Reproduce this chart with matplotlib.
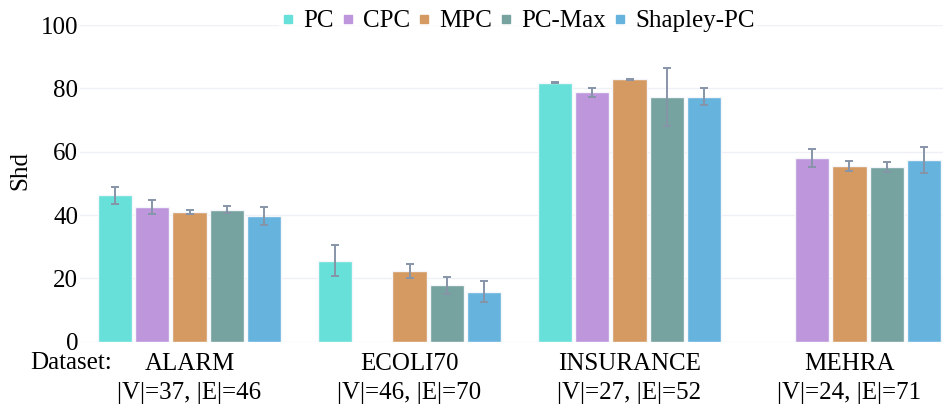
import numpy as np
import matplotlib
matplotlib.use("Agg")
import matplotlib.pyplot as plt
from matplotlib.lines import Line2D

plt.rcParams['font.family'] = ['Liberation Serif', 'DejaVu Serif']

datasets = ["ALARM", "ECOLI70", "INSURANCE", "MEHRA"]
sizes = ["|V|=37, |E|=46", "|V|=46, |E|=70", "|V|=27, |E|=52", "|V|=24, |E|=71"]
methods = ["PC", "CPC", "MPC", "PC-Max", "Shapley-PC"]
colors = ["#66E0D8", "#BE96DC", "#D49A62", "#76A29F", "#66B4DE"]

nan = np.nan
pc_mean = [46.2, 25.6, 81.8, nan]
pc_err = [2.6, 4.9, 0.2, nan]
cpc_mean = [42.6, nan, 78.8, 57.9]
cpc_err = [2.3, nan, 1.4, 2.8]
mpc_mean = [41.0, 22.3, 82.8, 55.5]
mpc_err = [0.6, 2.15, 0.15, 1.6]
pcmax_mean = [41.7, 17.8, 77.3, 55.1]
pcmax_err = [1.0, 2.6, 9.2, 1.5]
shap_mean = [39.8, 15.8, 77.3, 57.4]
shap_err = [2.8, 3.3, 2.7, 4.05]

means = [pc_mean, cpc_mean, mpc_mean, pcmax_mean, shap_mean]
errs = [pc_err, cpc_err, mpc_err, pcmax_err, shap_err]

W, H = 943, 412
fig = plt.figure(figsize=(W / 100, H / 100), dpi=100)
ax = fig.add_axes([79.5 / W, 70.3 / H, 880 / W, 316.7 / H])

x = np.arange(len(datasets))
slot = 0.17
bw = 0.155
for i, (m, e, c) in enumerate(zip(means, errs, colors)):
    pos = x + (i - 2) * slot
    ax.bar(pos, m, width=bw, color=c, edgecolor="#F4F6FA", linewidth=1.0, zorder=2)
    ax.errorbar(pos, m, yerr=e, fmt="none", ecolor="#8794A8", elinewidth=1.4,
                capsize=2.6, capthick=1.4, zorder=3)

ax.set_xlim(-0.5, 3.5)
ax.set_ylim(0, 100)
ax.set_yticks([0, 20, 40, 60, 80, 100])
ax.yaxis.grid(True, color="#EEF0F5", linewidth=1.0, zorder=0)
ax.set_axisbelow(True)
for s in ax.spines.values():
    s.set_visible(False)
ax.tick_params(axis="y", length=0, labelsize=18, pad=1, colors="black")
ax.tick_params(axis="x", length=0, labelsize=18, pad=8)
ax.set_xticks(x)
ax.set_xticklabels([f"{d}\n{s}" for d, s in zip(datasets, sizes)], linespacing=1.45)

fig.text(30 / W, (H - 363) / H, "Dataset:", fontsize=18, ha="left", va="center")
fig.text(20 / W, (H - 170) / H, "Shd", fontsize=18, rotation=90, ha="center", va="center")

handles = [Line2D([], [], marker="s", linestyle="none", markersize=5.5,
                  markerfacecolor=c, markeredgecolor=c) for c in colors]
leg = fig.legend(handles, methods, loc="center", bbox_to_anchor=(518 / W, (H - 21) / H),
                 ncol=5, frameon=True, fontsize=18, handlelength=0.5, handletextpad=0.35,
                 columnspacing=0.32, borderpad=0.1, borderaxespad=0)
leg.get_frame().set_facecolor("white")
leg.get_frame().set_edgecolor("white")
leg.get_frame().set_linewidth(0)

fig.savefig("out.png", dpi=100)
